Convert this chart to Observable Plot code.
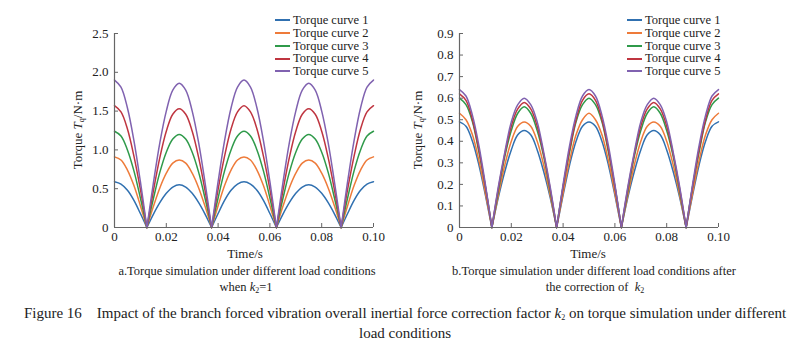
<!DOCTYPE html>
<html><head><meta charset="utf-8">
<script src="https://cdn.jsdelivr.net/npm/d3@7"></script>
<script src="https://cdn.jsdelivr.net/npm/@observablehq/plot@0.6"></script>
<style>
body{margin:0;background:#fff;}
#fig{position:relative;width:804px;height:352px;font-family:"Liberation Serif","Times New Roman",serif;color:#222;overflow:hidden;background:#fff}
.plot{position:absolute;top:0}
.leg{position:absolute;font-size:12.5px;line-height:1;font-family:"Liberation Serif","Times New Roman",serif}
.leg .row{height:12.75px;display:flex;align-items:center}
.leg .sw{display:inline-block;width:15px;height:2px;margin-right:3px}
.ylab{position:absolute;font-size:13px;transform:translate(-50%,-50%) rotate(-90deg);white-space:nowrap}
.ylab sub{font-size:8px;vertical-align:-2px}
.cap{position:absolute;transform:translateX(-50%);white-space:nowrap;font-size:12.5px;line-height:1}
.cap sub{font-size:8px;vertical-align:-2px}
</style></head><body><div id="fig"></div>
<script>
// ---- data ----
const curveNames = ["Torque curve 1","Torque curve 2","Torque curve 3","Torque curve 4","Torque curve 5"];
const curveColors = ["#3070b0","#ee7b3a","#2f9a4a","#bf3540","#8062b0"];
const times = [0,0.0025,0.005,0.0075,0.01,0.0125,0.015,0.0175,0.02,0.0225,0.025,0.0275,0.03,0.0325,0.035,0.0375,0.04,0.0425,0.045,0.0475,0.05,0.0525,0.055,0.0575,0.06,0.0625,0.065,0.0675,0.07,0.0725,0.075,0.0775,0.08,0.0825,0.085,0.0875,0.09,0.0925,0.095,0.0975,0.1];
const xTicks = [0,0.02,0.04,0.06,0.08,0.10];
const xTickLabels = ["0","0.02","0.04","0.06","0.08","0.10"];
const yTicksA = [0,0.5,1.0,1.5,2.0,2.5];
const yTickLabelsA = ["0","0.5","1.0","1.5","2.0","2.5"];
const yTicksB = [0,0.1,0.2,0.3,0.4,0.5,0.6,0.7,0.8,0.9];
const yTickLabelsB = ["0","0.1","0.2","0.3","0.4","0.5","0.6","0.7","0.8","0.9"];

// chart a (k2 = 1)
const a1 = [0.59,0.56,0.48,0.35,0.18,0, 0.17,0.32,0.44,0.52,0.55,0.52,0.44,0.32,0.17,0, 0.18,0.35,0.48,0.56,0.59,0.56,0.48,0.35,0.18,0, 0.17,0.32,0.44,0.52,0.55,0.52,0.44,0.32,0.17,0, 0.18,0.35,0.48,0.56,0.59];
const a2 = [0.91,0.87,0.74,0.54,0.28,0, 0.27,0.51,0.70,0.83,0.87,0.83,0.70,0.51,0.27,0, 0.28,0.54,0.74,0.87,0.91,0.87,0.74,0.54,0.28,0, 0.27,0.51,0.70,0.83,0.87,0.83,0.70,0.51,0.27,0, 0.28,0.54,0.74,0.87,0.91];
const a3 = [1.24,1.18,1.00,0.73,0.38,0, 0.37,0.71,0.97,1.14,1.20,1.14,0.97,0.71,0.37,0, 0.38,0.73,1.00,1.18,1.24,1.18,1.00,0.73,0.38,0, 0.37,0.71,0.97,1.14,1.20,1.14,0.97,0.71,0.37,0, 0.38,0.73,1.00,1.18,1.24];
const a4 = [1.57,1.49,1.27,0.92,0.49,0, 0.47,0.90,1.24,1.46,1.53,1.46,1.24,0.90,0.47,0, 0.49,0.92,1.27,1.49,1.57,1.49,1.27,0.92,0.49,0, 0.47,0.90,1.24,1.46,1.53,1.46,1.24,0.90,0.47,0, 0.49,0.92,1.27,1.49,1.57];
const a5 = [1.90,1.81,1.54,1.12,0.59,0, 0.57,1.09,1.50,1.77,1.86,1.77,1.50,1.09,0.57,0, 0.59,1.12,1.54,1.81,1.90,1.81,1.54,1.12,0.59,0, 0.57,1.09,1.50,1.77,1.86,1.77,1.50,1.09,0.57,0, 0.59,1.12,1.54,1.81,1.90];
// chart b (after correction of k2)
const b1 = [0.49,0.47,0.40,0.29,0.15,0, 0.14,0.26,0.36,0.43,0.45,0.43,0.36,0.26,0.14,0, 0.15,0.29,0.40,0.47,0.49,0.47,0.40,0.29,0.15,0, 0.14,0.26,0.36,0.43,0.45,0.43,0.36,0.26,0.14,0, 0.15,0.29,0.40,0.47,0.49];
const b2 = [0.53,0.50,0.43,0.31,0.16,0, 0.15,0.29,0.40,0.47,0.49,0.47,0.40,0.29,0.15,0, 0.16,0.31,0.43,0.50,0.53,0.50,0.43,0.31,0.16,0, 0.15,0.29,0.40,0.47,0.49,0.47,0.40,0.29,0.15,0, 0.16,0.31,0.43,0.50,0.53];
const b3 = [0.60,0.57,0.49,0.35,0.19,0, 0.17,0.33,0.45,0.53,0.56,0.53,0.45,0.33,0.17,0, 0.19,0.35,0.49,0.57,0.60,0.57,0.49,0.35,0.19,0, 0.17,0.33,0.45,0.53,0.56,0.53,0.45,0.33,0.17,0, 0.19,0.35,0.49,0.57,0.60];
const b4 = [0.62,0.59,0.50,0.36,0.19,0, 0.18,0.34,0.47,0.55,0.58,0.55,0.47,0.34,0.18,0, 0.19,0.36,0.50,0.59,0.62,0.59,0.50,0.36,0.19,0, 0.18,0.34,0.47,0.55,0.58,0.55,0.47,0.34,0.18,0, 0.19,0.36,0.50,0.59,0.62];
const b5 = [0.64,0.61,0.52,0.38,0.20,0, 0.19,0.35,0.49,0.57,0.60,0.57,0.49,0.35,0.19,0, 0.20,0.38,0.52,0.61,0.64,0.61,0.52,0.38,0.20,0, 0.19,0.35,0.49,0.57,0.60,0.57,0.49,0.35,0.19,0, 0.20,0.38,0.52,0.61,0.64];

// ---- build rows: split each curve into arches so cusps at zero stay sharp ----
function build(series){
  const rows = [];
  series.forEach((vals, s) => {
    vals.forEach((v, i) => {
      const k = Math.floor((i + 5) / 10);
      rows.push({t: times[i], v, s: curveNames[s], seg: s + "-" + k});
      if (i % 10 === 5) rows.push({t: times[i], v, s: curveNames[s], seg: s + "-" + (k - 1)});
    });
  });
  return rows;
}

const font = '"Liberation Serif","Times New Roman",serif';
function chart(series, yDomain, yTicks, yLabels, ml, mr){
  const rows = build(series);
  return Plot.plot({
    width: 330, height: 265,
    marginLeft: ml, marginRight: mr, marginTop: 33, marginBottom: 38,
    style: {fontFamily: font, fontSize: "13px", color: "#222", background: "transparent", overflow: "visible"},
    x: {domain: [0, 0.1]},
    y: {domain: yDomain},
    color: {domain: curveNames, range: curveColors},
    marks: [
      Plot.line(rows, {x: "t", y: "v", z: "seg", stroke: "s", curve: "catmull-rom", strokeWidth: 1.5}),
      Plot.ruleX([0], {stroke: "#666", strokeWidth: 1.2}),
      Plot.ruleY([0], {stroke: "#666", strokeWidth: 1.2}),
      Plot.axisX(xTicks, {label: null, tickSize: -4, tickPadding: 8, stroke: "#666", tickFormat: (d, i) => xTickLabels[i]}),
      Plot.axisY(yTicks, {label: null, tickSize: -4, tickPadding: 10, stroke: "#666", tickFormat: (d, i) => yLabels[i]})
    ]
  });
}

const fig = document.getElementById("fig");
function place(el, left){ el.classList.add("plot"); el.style.left = left + "px"; fig.appendChild(el); }
place(chart([a1,a2,a3,a4,a5], [0, 2.5], yTicksA, yTickLabelsA, 54, 17), 60);
place(chart([b1,b2,b3,b4,b5], [0, 0.9], yTicksB, yTickLabelsB, 59, 12), 400);

function legend(x, y){
  const d = document.createElement("div");
  d.className = "leg"; d.style.left = x + "px"; d.style.top = y + "px";
  curveNames.forEach((n, i) => {
    const r = document.createElement("div"); r.className = "row";
    const sw = document.createElement("span"); sw.className = "sw"; sw.style.background = curveColors[i];
    const t = document.createElement("span"); t.textContent = n;
    r.appendChild(sw); r.appendChild(t); d.appendChild(r);
  });
  fig.appendChild(d);
}
legend(275, 14);
legend(627, 14);

function html(cls, x, y, h, extra){
  const d = document.createElement("div");
  d.className = cls; d.style.left = x + "px"; d.style.top = y + "px"; d.innerHTML = h;
  if (extra) Object.assign(d.style, extra);
  fig.appendChild(d);
}
html("ylab", 78, 130, 'Torque <i>T</i><sub>q</sub>/N·m');
html("ylab", 418, 130, 'Torque <i>T</i><sub>q</sub>/N·m');
html("cap", 245, 247, 'Time/s', {fontSize: "13px"});
html("cap", 588, 247, 'Time/s', {fontSize: "13px"});
html("cap", 247, 265, 'a.Torque simulation under different load conditions');
html("cap", 246, 281, 'when <i>k</i><sub>2</sub>=1');
html("cap", 594, 265, 'b.Torque simulation under different load conditions after');
html("cap", 595, 281, 'the correction of &nbsp;<i>k</i><sub>2</sub>');
html("cap", 405, 306, 'Figure 16&nbsp;&nbsp;&nbsp; Impact of the branch forced vibration overall inertial force correction factor <i>k</i><sub>2</sub> on torque simulation under different', {fontSize: "15px"});
html("cap", 405, 326, 'load conditions', {fontSize: "15px"});
</script></body></html>
